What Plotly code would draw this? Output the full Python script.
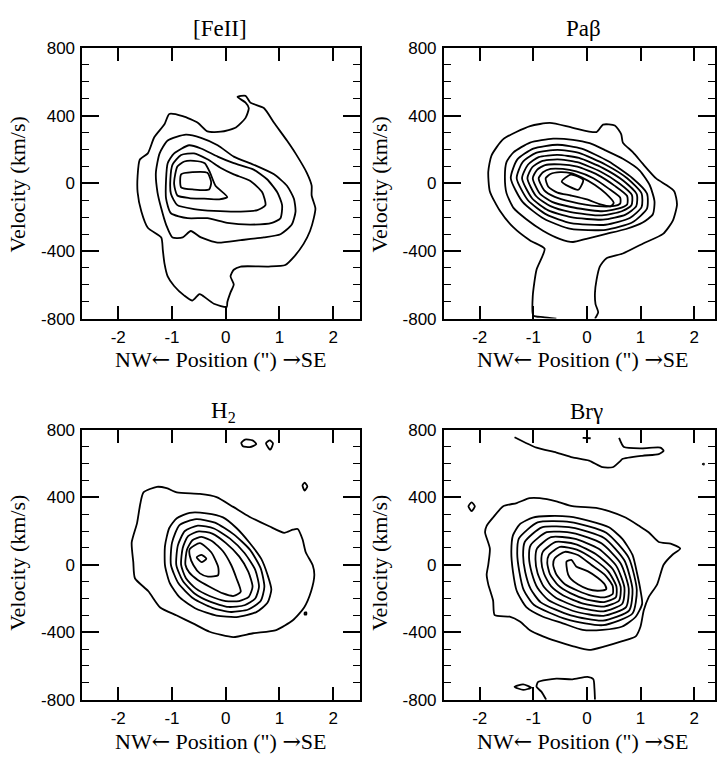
import plotly.graph_objects as go

# ---------------- axis ticks / labels ----------------
x_ticks = [-2, -1, 0, 1, 2]
x_tick_labels = ["-2", "-1", "0", "1", "2"]
v_ticks = [-800, -400, 0, 400, 800]
v_tick_labels = ["-800", "-400", "0", "400", "800"]
v_minor = [-700, -600, -500, -300, -200, -100, 100, 200, 300, 500, 600, 700]
panel_titles = ["[FeII]", "Paβ", "H<sub>2</sub>", "Brγ"]
ARW = "<span style='font-family:DejaVu Serif'>%s</span>"
x_title = "NW" + ARW % "←" + " Position (\") " + ARW % "→" + "SE"
y_title = "Velocity (km/s)"

# ---------------- contour lines: (position ["], velocity [km/s]) -------------
# [FeII]
feii_c1 = [(-1.05,410),(-0.80,397),(-0.52,358),(-0.34,307),(-0.09,305),(0.19,330),(0.37,387),(0.43,445),
           (0.37,477),(0.22,511),(0.37,517),(0.46,477),(0.71,445),(0.90,358),(1.14,253),(1.30,177),(1.51,62),
           (1.60,-14),(1.60,-72),(1.67,-148),(1.64,-206),(1.57,-282),(1.45,-358),(1.27,-435),(1.11,-483),
           (0.80,-492),(0.28,-492),(0.15,-511),(0.09,-550),(0.15,-598),(0.09,-645),(0.03,-703),(0.02,-731),
           (-0.22,-712),(-0.43,-664),(-0.49,-655),(-0.62,-693),(-0.77,-664),(-0.96,-607),(-1.08,-550),
           (-1.14,-473),(-1.17,-397),(-1.20,-320),(-1.45,-263),(-1.57,-167),(-1.64,-53),(-1.64,43),
           (-1.60,139),(-1.45,177),(-1.33,272),(-1.14,349)]
feii_c2 = [(-1.08,253),(-0.74,288),(-0.46,269),(-0.15,225),(0.15,158),(0.52,110),(0.90,53),(1.14,-14),
           (1.27,-91),(1.30,-167),(1.23,-244),(1.02,-301),(0.71,-320),(0.28,-336),(-0.15,-351),(-0.46,-320),
           (-0.65,-282),(-0.80,-320),(-0.99,-320),(-1.11,-244),(-1.20,-148),(-1.27,-53),(-1.30,62),(-1.23,177)]
feii_c3 = [(-0.96,177),(-0.68,225),(-0.46,206),(-0.15,158),(0.15,119),(0.52,81),(0.77,24),(0.96,-53),
           (1.05,-129),(1.02,-206),(0.86,-234),(0.46,-244),(0.03,-234),(-0.34,-206),(-0.71,-206),
           (-1.02,-177),(-1.11,-91),(-1.11,24),(-1.08,119)]
feii_c4 = [(-0.83,167),(-0.59,177),(-0.34,142),(-0.09,91),(0.15,53),(0.46,14),(0.68,-53),(0.74,-129),
           (0.59,-158),(0.28,-167),(-0.22,-163),(-0.59,-152),(-0.90,-129),(-1.02,-62),(-1.03,24),(-0.99,110)]
feii_c5 = [(-0.90,100),(-0.77,129),(-0.59,133),(-0.39,119),(-0.29,62),(-0.19,-14),(0.03,-81),(-0.12,-95),
           (-0.40,-91),(-0.68,-87),(-0.90,-72),(-0.96,-5),(-0.94,53)]
feii_c6 = [(-0.83,53),(-0.62,66),(-0.34,62),(-0.27,5),(-0.31,-37),(-0.59,-37),(-0.83,-24)]

# Pa beta
pab_c1_open = [(0.15,-800),(0.21,-762),(0.16,-714),(0.15,-647),(0.18,-569),(0.24,-492),(0.36,-444),
               (0.67,-415),(1.04,-357),(1.42,-299),(1.60,-222),(1.68,-125),(1.63,-48),(1.48,-10),(1.29,29),
               (1.04,116),(0.86,183),(0.67,241),(0.64,290),(0.52,342),(0.30,347),(0.18,303),(-0.26,328),
               (-0.69,357),(-1.06,338),(-1.56,261),(-1.78,164),(-1.84,68),(-1.81,-48),(-1.62,-164),
               (-1.37,-261),(-1.06,-338),(-0.79,-386),(-0.94,-511),(-1.01,-666),(-1.00,-782),(-0.82,-791),
               (-0.57,-800)]
pab_c2 = [(-1.50,125),(-1.37,183),(-1.06,241),(-0.63,264),(-0.26,257),(0.05,237),(0.36,193),(0.67,145),
          (0.98,77),(1.17,-10),(1.26,-106),(1.23,-183),(1.04,-232),(0.73,-270),(0.36,-299),(-0.01,-328),
          (-0.26,-347),(-0.51,-328),(-0.82,-280),(-1.13,-212),(-1.37,-145),(-1.50,-58),(-1.53,39)]
pab_c3 = [(-1.42,30),(-1.30,140),(-1.00,205),(-0.55,228),(-0.10,205),(0.40,130),(0.85,30),(1.12,-60),
          (1.12,-150),(0.85,-230),(0.35,-275),(-0.30,-270),(-0.80,-210),(-1.20,-110)]
pab_c4 = [(-1.31,30),(-1.20,125),(-0.95,180),(-0.55,198),(-0.15,180),(0.35,110),(0.75,30),(1.02,-60),
          (1.02,-140),(0.80,-205),(0.35,-245),(-0.30,-235),(-0.75,-185),(-1.10,-100)]
pab_c5 = [(-1.21,30),(-1.10,110),(-0.90,155),(-0.55,168),(-0.15,150),(0.30,90),(0.68,15),(0.93,-65),
          (0.92,-135),(0.72,-185),(0.30,-215),(-0.30,-200),(-0.72,-160),(-1.02,-90)]
pab_c6 = [(-1.11,30),(-1.02,95),(-0.85,130),(-0.55,142),(-0.18,125),(0.25,70),(0.60,0),(0.84,-70),
          (0.83,-130),(0.65,-165),(0.28,-190),(-0.30,-170),(-0.68,-135),(-0.95,-75)]
pab_c7 = [(-1.01,30),(-0.93,80),(-0.78,108),(-0.50,112),(-0.18,98),(0.20,50),(0.52,-15),(0.75,-75),
          (0.75,-125),(0.58,-150),(0.25,-165),(-0.30,-140),(-0.65,-110),(-0.88,-60)]
pab_c8 = [(-0.90,30),(-0.82,65),(-0.68,85),(-0.45,85),(-0.20,70),(0.12,30),(0.40,-30),(0.62,-85),
          (0.62,-120),(0.48,-135),(0.20,-135),(-0.30,-108),(-0.60,-80),(-0.80,-40)]
pab_c9 = [(-0.77,30),(-0.68,55),(-0.50,66),(-0.30,60),(-0.10,35),(0.15,-10),(0.35,-60),(0.50,-115),
          (0.45,-135),(0.25,-125),(0.00,-95),(-0.30,-72),(-0.55,-55),(-0.72,-20)]
pab_c10 = [(-0.47,10),(-0.30,52),(-0.07,20),(-0.16,-38)]

# H2
h2_c1 = [(-1.53,429),(-1.28,462),(-1.10,454),(-0.91,429),(-0.48,420),(-0.17,401),(0.14,343),(0.44,285),
         (0.81,228),(1.09,189),(1.25,208),(1.34,212),(1.43,151),(1.49,74),(1.62,-3),(1.65,-61),(1.59,-157),
         (1.46,-253),(1.25,-329),(0.94,-387),(0.51,-406),(0.14,-429),(-0.30,-397),(-0.60,-349),
         (-0.91,-301),(-1.22,-253),(-1.44,-157),(-1.69,-80),(-1.72,16),(-1.75,132),(-1.65,247),(-1.59,362)]
h2_c2 = [(-0.91,276),(-0.67,308),(-0.36,305),(-0.05,281),(0.20,218),(0.44,132),(0.66,36),(0.78,-61),
         (0.85,-147),(0.78,-224),(0.57,-281),(0.20,-310),(-0.17,-301),(-0.54,-262),(-0.85,-195),
         (-1.04,-109),(-1.13,-3),(-1.13,112),(-1.05,218)]
h2_c3 = [(-1.02,0),(-1.00,130),(-0.86,235),(-0.55,270),(-0.20,250),(0.15,180),(0.45,90),(0.65,-20),
         (0.72,-130),(0.65,-215),(0.42,-265),(0.10,-280),(-0.25,-255),(-0.60,-200),(-0.88,-110)]
h2_c4 = [(-0.92,0),(-0.89,115),(-0.76,200),(-0.52,232),(-0.22,215),(0.08,155),(0.35,70),(0.55,-30),
         (0.62,-130),(0.55,-200),(0.35,-240),(0.05,-250),(-0.28,-220),(-0.58,-170),(-0.80,-95)]
h2_c5 = [(-0.83,0),(-0.80,100),(-0.70,170),(-0.50,198),(-0.25,185),(0.00,130),(0.25,50),(0.42,-40),
         (0.50,-130),(0.43,-190),(0.25,-215),(0.00,-215),(-0.30,-185),(-0.56,-140),(-0.74,-80)]
h2_c6 = [(-0.75,0),(-0.72,90),(-0.62,145),(-0.45,165),(-0.25,140),(-0.05,80),(0.10,0),(0.20,-80),
         (0.28,-160),(0.15,-185),(-0.05,-170),(-0.30,-130),(-0.52,-90),(-0.68,-45)]
h2_c7 = [(-0.67,93),(-0.48,128),(-0.27,74),(-0.14,-13),(-0.14,-61),(-0.33,-70),(-0.48,-51),(-0.60,-3),
         (-0.67,55)]
h2_c8 = [(-0.54,45),(-0.45,59),(-0.36,36),(-0.45,16)]
h2_isl1 = [(0.29,722),(0.36,742),(0.50,737),(0.57,715),(0.45,697),(0.32,703)]
h2_isl2 = [(0.75,720),(0.82,737),(0.88,720),(0.83,682)]
h2_isl3 = [(1.43,470),(1.47,487),(1.52,465),(1.47,439)]
h2_isl4 = [(1.47,-285),(1.50,-282),(1.50,-295),(1.47,-295)]

# Br gamma
brg_c1 = [(-1.87,231),(-1.75,280),(-1.56,347),(-1.31,366),(-1.07,395),(-0.88,395),(-0.57,376),(-0.27,347),
          (0.17,337),(0.41,318),(0.72,280),(0.97,231),(1.15,193),(1.34,135),(1.56,125),(1.74,96),(1.59,58),
          (1.43,0),(1.31,-116),(1.15,-193),(1.06,-270),(1.00,-366),(0.91,-424),(0.66,-453),(0.35,-482),
          (0.04,-505),(-0.27,-482),(-0.57,-453),(-0.82,-424),(-1.07,-386),(-1.25,-337),(-1.44,-308),
          (-1.72,-299),(-1.75,-212),(-1.84,-116),(-1.87,-58),(-1.84,0),(-1.81,96),(-1.90,193)]
brg_c2 = [(-1.38,174),(-1.25,241),(-1.01,280),(-0.70,289),(-0.33,285),(0.04,260),(0.41,222),(0.66,154),
          (0.85,58),(0.94,-58),(1.00,-154),(1.03,-231),(0.91,-308),(0.66,-366),(0.29,-386),(-0.08,-386),
          (-0.45,-347),(-0.82,-308),(-1.13,-251),(-1.31,-154),(-1.38,-39),(-1.41,77)]
brg_c3 = [(-1.27,155),(-0.92,251),(-0.31,253),(0.36,190),(0.78,41),(0.93,-150),(0.85,-289),(0.30,-358),
          (-0.37,-324),(-0.99,-237),(-1.18,-149),(-1.26,-42),(-1.30,66)]
brg_c4 = [(-1.16,135),(-0.84,222),(-0.28,220),(0.32,159),(0.70,25),(0.85,-146),(0.79,-270),(0.30,-331),
          (-0.30,-300),(-0.86,-223),(-1.05,-143),(-1.15,-44),(-1.19,55)]
brg_c5 = [(-1.05,116),(-0.75,193),(-0.26,188),(0.27,127),(0.63,8),(0.78,-142),(0.73,-251),(0.31,-303),
          (-0.22,-277),(-0.72,-209),(-0.92,-138),(-1.03,-47),(-1.08,44)]
brg_c6 = [(-0.93,97),(-0.67,164),(-0.24,155),(0.22,95),(0.55,-8),(0.70,-137),(0.66,-231),(0.31,-276),
          (-0.15,-253),(-0.58,-196),(-0.80,-132),(-0.92,-50),(-0.96,33)]
brg_c7 = [(-0.82,78),(-0.58,135),(-0.22,123),(0.17,63),(0.48,-25),(0.63,-133),(0.60,-212),(0.32,-248),
          (-0.07,-230),(-0.44,-182),(-0.67,-127),(-0.80,-53),(-0.85,22)]
brg_c8 = [(-0.71,58),(-0.50,106),(-0.19,90),(0.13,32),(0.40,-41),(0.55,-129),(0.54,-193),(0.32,-221),
          (0.00,-206),(-0.31,-168),(-0.54,-121),(-0.69,-55),(-0.74,11)]
brg_c9 = [(-0.60,39),(-0.41,77),(-0.17,58),(0.08,0),(0.33,-58),(0.48,-125),(0.48,-174),(0.33,-193),
          (0.08,-183),(-0.17,-154),(-0.41,-116),(-0.57,-58),(-0.63,0)]
brg_c10 = [(-0.38,19),(-0.29,29),(-0.20,-10),(0.02,-39),(0.20,-77),(0.33,-116),(0.36,-145),(0.20,-154),
           (0.02,-145),(-0.17,-116),(-0.29,-87),(-0.35,-58),(-0.38,-10)]
brg_top_open = [(-1.35,756),(-0.94,694),(-0.57,665),(-0.27,636),(0.04,617),(0.29,578),(0.48,578),(0.63,617),
                (0.66,627),(1.03,646),(1.34,656),(1.43,675),(1.37,694),(1.03,690),(0.69,698),(0.60,752)]
brg_tick_open = [(-0.08,752),(0.07,750)]
brg_dot = [(2.16,596),(2.18,600),(2.18,594)]
brg_isl = [(-2.21,347),(-2.15,370),(-2.09,347),(-2.15,318)]
brg_bot_open = [(-0.76,-800),(-0.85,-752),(-0.94,-723),(-0.91,-694),(-0.57,-675),(-0.27,-679),(0.01,-665),
                (0.12,-679),(0.14,-733),(0.15,-800)]
brg_bot_eye = [(-1.35,-723),(-1.19,-709),(-1.04,-728),(-1.19,-742)]

feii_closed = [feii_c1, feii_c2, feii_c3, feii_c4, feii_c5, feii_c6]
feii_open = []
pab_closed = [pab_c2, pab_c3, pab_c4, pab_c5, pab_c6, pab_c7, pab_c8, pab_c9, pab_c10]
pab_open = [pab_c1_open]
h2_closed = [h2_c1, h2_c2, h2_c3, h2_c4, h2_c5, h2_c6, h2_c7, h2_c8, h2_isl1, h2_isl2, h2_isl3, h2_isl4]
h2_open = []
brg_closed = [brg_c1, brg_c2, brg_c3, brg_c4, brg_c5, brg_c6, brg_c7, brg_c8, brg_c9, brg_c10,
              brg_dot, brg_isl, brg_bot_eye]
brg_open = [brg_top_open, brg_tick_open, brg_bot_open]

panels = [(feii_closed, feii_open), (pab_closed, pab_open), (h2_closed, h2_open), (brg_closed, brg_open)]

# ---------------- layout geometry (pixels of a 717 x 766 page) ----------------
W, H = 717, 766
SERIF = "Liberation Serif, Times New Roman, serif"
SANS = "Liberation Sans, Arial, Helvetica, sans-serif"

def px_x(p):
    return p / W

def px_y(p):
    return 1 - p / H

# plot boxes: (left, right, top, bottom) in px; right panels extend beyond the page edge (cut at 717)
boxes = [(82.5, 361, 40, 317.5), (445, 723, 40, 317.5), (82.5, 361, 431.5, 708.3), (445, 723, 431.5, 708.3)]
X_RANGE = (-2.67, 2.5)

fig = go.Figure()
line_style = dict(color="black", width=1.8, shape="spline", smoothing=0.6)

for i, (closed_list, open_list) in enumerate(panels):
    ax = "" if i == 0 else str(i + 1)
    for c in closed_list:
        pts = c + [c[0]]
        fig.add_trace(go.Scatter(x=[p[0] for p in pts], y=[p[1] for p in pts], mode="lines",
                                 line=line_style, xaxis="x" + ax, yaxis="y" + ax,
                                 showlegend=False, hoverinfo="skip"))
    for c in open_list:
        fig.add_trace(go.Scatter(x=[p[0] for p in c], y=[p[1] for p in c], mode="lines",
                                 line=line_style, xaxis="x" + ax, yaxis="y" + ax,
                                 showlegend=False, hoverinfo="skip"))

layout = dict(width=W, height=H, margin=dict(l=0, r=0, t=0, b=0), paper_bgcolor="white",
              plot_bgcolor="white", showlegend=False)

for i, (l, r, t, b) in enumerate(boxes):
    ax = "" if i == 0 else str(i + 1)
    rr = min(r, W)
    span = (X_RANGE[1] - X_RANGE[0]) / (r - l)
    xr = [X_RANGE[0], X_RANGE[0] + (rr - l) * span]
    layout["xaxis" + ax] = dict(
        domain=[px_x(l), px_x(rr)], anchor="y" + ax, range=xr, showgrid=False, zeroline=False,
        showline=True, linecolor="black", linewidth=1.6, mirror="ticks", ticks="inside", ticklen=13,
        tickwidth=1.6, tickcolor="black", tickmode="array", tickvals=x_ticks, ticktext=x_tick_labels,
        tickfont=dict(family=SANS, size=17, color="black"), ticklabelstandoff=2)
    layout["yaxis" + ax] = dict(
        domain=[px_y(b), px_y(t)], anchor="x" + ax, range=[-800, 800], showgrid=False, zeroline=False,
        showline=True, linecolor="black", linewidth=1.6, mirror="ticks", ticks="inside", ticklen=17,
        tickwidth=1.6, tickcolor="black", tickmode="array", tickvals=v_ticks, ticktext=v_tick_labels,
        tickfont=dict(family=SANS, size=17, color="black"), ticklabelstandoff=2,
        minor=dict(tickmode="array", tickvals=v_minor, ticks="inside", ticklen=7, tickwidth=1.4,
                   tickcolor="black", showgrid=False))

annotations = []
title_pos = [(221, 20), (585, 20), (224, 413), (588, 413)]
ytitle_pos = [(18, 180), (381, 180), (18, 568), (381, 568)]
xtitle_pos = [(222, 359), (585, 359), (222, 751), (585, 751)]
for i in range(4):
    annotations.append(dict(x=px_x(title_pos[i][0]), y=px_y(title_pos[i][1]), xref="paper", yref="paper",
                            text=panel_titles[i], showarrow=False, xanchor="center", yanchor="middle",
                            font=dict(family=SERIF, size=23, color="black")))
    annotations.append(dict(x=px_x(ytitle_pos[i][0]), y=px_y(ytitle_pos[i][1]), xref="paper", yref="paper",
                            text=y_title, showarrow=False, xanchor="center", yanchor="middle", textangle=-90,
                            font=dict(family=SERIF, size=22, color="black")))
    annotations.append(dict(x=px_x(xtitle_pos[i][0]), y=px_y(xtitle_pos[i][1]), xref="paper", yref="paper",
                            text=x_title, showarrow=False, xanchor="center", yanchor="middle",
                            font=dict(family=SERIF, size=22, color="black")))
layout["annotations"] = annotations

fig.update_layout(**layout)
fig.write_html("out.html")
